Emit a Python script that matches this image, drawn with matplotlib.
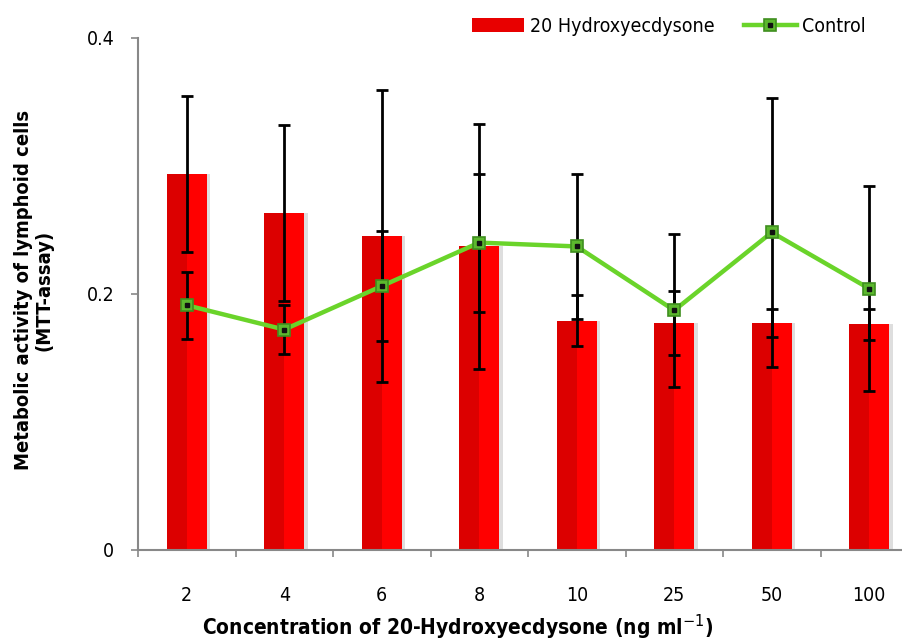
import matplotlib
matplotlib.use("Agg")
import matplotlib.pyplot as plt
from matplotlib.patches import Patch
from matplotlib.lines import Line2D
from matplotlib import font_manager as fm
import numpy as np

categories = ["2", "4", "6", "8", "10", "25", "50", "100"]
hydroxy = [0.294, 0.263, 0.245, 0.237, 0.179, 0.177, 0.177, 0.176]
hydroxy_err = [0.061, 0.069, 0.114, 0.096, 0.020, 0.025, 0.011, 0.012]
control = [0.191, 0.172, 0.206, 0.240, 0.237, 0.187, 0.248, 0.204]
control_err = [0.026, 0.019, 0.043, 0.054, 0.057, 0.060, 0.105, 0.080]
yticks = [0, 0.2, 0.4]
ytick_labels = ["0", "0.2", "0.4"]

cands = []
for f in fm.fontManager.ttflist:
    n = f.name.lower()
    st = str(f.stretch).lower()
    fn = f.fname.lower()
    if "narrow" in n or "condensed" in n or "condensed" in st or "narrow" in fn or "condensed" in fn:
        if f.style == "normal":
            cands.append(f)
cands.sort(key=lambda f: f.fname)
if cands:
    regs = [f for f in cands if f.weight in (400, "normal", "regular")] or cands
    bolds = [f for f in cands if f.weight in (700, "bold")] or regs
    fp_reg = fm.FontProperties(fname=regs[0].fname)
    fp_bold = fm.FontProperties(fname=bolds[0].fname)
    tick_fs, lab_fs, leg_fs = 14, 15, 14
else:
    fp_reg = fm.FontProperties(family="DejaVu Sans")
    fp_bold = fm.FontProperties(family="DejaVu Sans", weight="bold")
    tick_fs, lab_fs, leg_fs = 12, 12.5, 11.5

fig = plt.figure(figsize=(9.02, 6.41), dpi=100)
W, H = 902, 641
left_px, right_px = 138, 138 + 8 * 97.5
bottom_px, top_px = 549.5, 38
ax = fig.add_axes([left_px / W, 1 - bottom_px / H, (right_px - left_px) / W, (bottom_px - top_px) / H])

x = np.arange(len(categories))
bw = 0.41
ax.bar(x + 0.035, hydroxy, width=bw, color="#c8c8c8", alpha=0.6, zorder=1)
ax.bar(x, hydroxy, width=bw, color="#ff0000", edgecolor="none", zorder=2)
ax.bar(x - bw / 4, hydroxy, width=bw / 2, color="#dc0000", edgecolor="none", zorder=2)
ax.errorbar(x, hydroxy, yerr=hydroxy_err, fmt="none", ecolor="black", elinewidth=2,
            capsize=4, capthick=2, zorder=3)
ax.errorbar(x, control, yerr=control_err, fmt="none", ecolor="black", elinewidth=2,
            capsize=4, capthick=2, zorder=3)
mk_big = dict(marker="s", markersize=8, markerfacecolor="#5cb82e",
              markeredgecolor="#3f8f1f", markeredgewidth=1.2)
mk_small = dict(marker="s", markersize=3.2, color="#111111", linestyle="none")
ax.plot(x, control, color="#6ad42a", lw=3.2, zorder=4, **mk_big)
ax.plot(x, control, zorder=5, **mk_small)

ax.set_xlim(-0.5, 7.5)
ax.set_ylim(0, 0.4)
ax.set_xticks(x)
ax.set_xticklabels(categories)
ax.set_xticks(np.arange(-0.5, 8, 1), minor=True)
ax.tick_params(axis="x", which="major", length=0, pad=26)
ax.tick_params(axis="x", which="minor", length=5, color="#888888", width=1.2, direction="out")
ax.set_yticks(yticks)
ax.set_yticklabels(ytick_labels)
ax.tick_params(axis="y", length=5, color="#888888", width=1.2, pad=12)
for lbl in ax.get_xticklabels() + ax.get_yticklabels():
    lbl.set_fontproperties(fp_reg)
    lbl.set_fontsize(tick_fs)
for s in ["top", "right"]:
    ax.spines[s].set_visible(False)
for s in ["left", "bottom"]:
    ax.spines[s].set_color("#888888")
    ax.spines[s].set_linewidth(1.5)

t1 = fig.text(458 / W, 1 - 627 / H, "Concentration of 20-Hydroxyecdysone (ng ml$^{-1}$)",
              ha="center", va="center", fontproperties=fp_bold)
t1.set_fontsize(lab_fs)
t2 = fig.text(34 / W, 1 - 290 / H, "Metabolic activity of lymphoid cells\n(MTT-assay)",
              ha="center", va="center", rotation=90, fontproperties=fp_bold, linespacing=1.1)
t2.set_fontsize(lab_fs - 0.5)

h_bar = Patch(facecolor="#e80000", edgecolor="none")
h_line = (Line2D([], [], color="#6ad42a", lw=3.2, **mk_big), Line2D([], [], **mk_small))
lp = fp_reg.copy()
lp.set_size(leg_fs)
fig.legend([h_bar, h_line], ["20 Hydroxyecdysone", "Control"], loc="center right",
           bbox_to_anchor=(866 / W, 1 - 26 / H), ncol=2, frameon=False, prop=lp,
           handlelength=2.7, handleheight=0.75, handletextpad=0.3, columnspacing=1.5,
           borderaxespad=0, borderpad=0)

fig.savefig("out.png", dpi=100)
